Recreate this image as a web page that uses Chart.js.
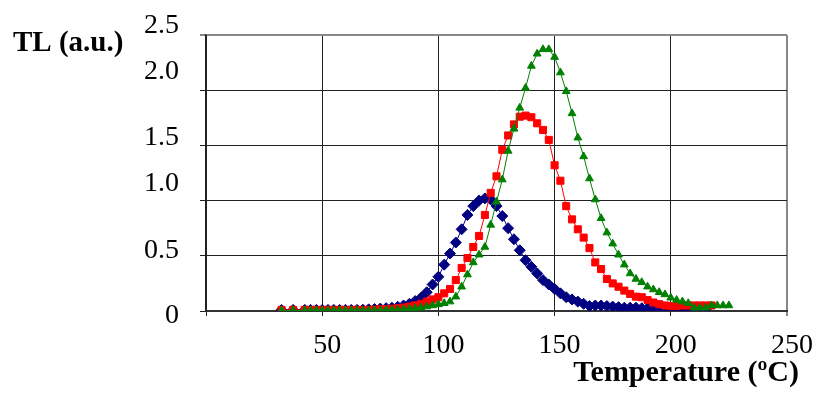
<!DOCTYPE html>
<html>
<head>
<meta charset="utf-8">
<script src="https://cdn.jsdelivr.net/npm/chart.js@4"></script>
<style>
html,body{margin:0;padding:0;background:#fff;}
#wrap{width:821px;height:402px;}
</style>
</head>
<body>
<div id="wrap"><canvas id="tlChart" width="821" height="402"></canvas></div>
<script>
// temperatures (ºC) shared by the three glow curves
const temps = [
32.5, 37.5, 42.5, 45, 47.5, 50, 52.5, 55, 57.5, 60,
62.5, 65, 67.5, 70, 72.5, 75, 77.5, 80, 82.5, 85,
87.5, 90, 92.5, 95, 97.5, 100, 102.5, 105, 107.5, 110,
112.5, 115, 117.5, 120, 122.5, 125, 127.5, 130, 132.5, 135,
137.5, 140, 142.5, 145, 147.5, 150, 152.5, 155, 157.5, 160,
162.5, 165, 167.5, 170, 172.5, 175, 177.5, 180, 182.5, 185,
187.5, 190, 192.5, 195, 197.5, 200, 202.5, 205, 207.5, 210,
212.5, 215, 217.5, 220, 222.5, 225
];

const blueTL = [
0.01, 0.01, 0.01, 0.01, 0.01, 0.01, 0.01, 0.01, 0.01, 0.01,
0.01, 0.01, 0.012, 0.015, 0.018, 0.022, 0.026, 0.03, 0.038, 0.05,
0.065, 0.09, 0.12, 0.17, 0.24, 0.31, 0.42, 0.52, 0.62, 0.74,
0.87, 0.95, 1.00, 1.02, 1.01, 0.95, 0.86, 0.75, 0.65, 0.55,
0.46, 0.40, 0.34, 0.28, 0.24, 0.20, 0.16, 0.125, 0.105, 0.085,
0.065, 0.045, 0.05, 0.05, 0.045, 0.04, 0.035, 0.03, 0.03, 0.03,
0.025, 0.025, 0.025, 0.02, 0.02, 0.02, 0.02, 0.015, 0.015, 0.015,
0.015, 0.015, null, null, null, null
];

const redTL = [
0.01, 0.01, 0.01, 0.01, 0.01, 0.01, 0.01, 0.01, 0.01, 0.01,
0.01, 0.01, 0.01, 0.01, 0.012, 0.015, 0.018, 0.02, 0.025, 0.03,
0.04, 0.05, 0.065, 0.085, 0.105, 0.125, 0.16, 0.20, 0.28, 0.39,
0.48, 0.58, 0.68, 0.87, 1.07, 1.22, 1.46, 1.59, 1.69, 1.76,
1.77, 1.755, 1.70, 1.64, 1.55, 1.32, 1.18, 0.95, 0.83, 0.74,
0.665, 0.57, 0.44, 0.38, 0.29, 0.25, 0.22, 0.185, 0.155, 0.13,
0.125, 0.10, 0.077, 0.062, 0.05, 0.045, 0.045, 0.05, 0.05, 0.05,
0.05, 0.05, 0.05, null, null, null
];

const greenTL = [
0.005, 0.005, 0.005, 0.005, 0.005, 0.005, 0.005, 0.005, 0.005, 0.005,
0.005, 0.005, 0.005, 0.005, 0.005, 0.005, 0.008, 0.01, 0.012, 0.015,
0.02, 0.025, 0.03, 0.04, 0.05, 0.06, 0.07, 0.085, 0.13, 0.22,
0.33, 0.44, 0.51, 0.58, 0.78, 0.99, 1.19, 1.45, 1.65, 1.84,
2.02, 2.22, 2.33, 2.37, 2.37, 2.30, 2.16, 1.99, 1.79, 1.57,
1.40, 1.20, 1.01, 0.84, 0.71, 0.61, 0.51, 0.42, 0.34, 0.29,
0.26, 0.22, 0.195, 0.17, 0.15, 0.12, 0.10, 0.085, 0.07, 0.03,
0.03, 0.03, 0.05, 0.05, 0.05, 0.05
];

const xTicks = [0, 50, 100, 150, 200, 250];
const yTicks = [0, 0.5, 1.0, 1.5, 2.0, 2.5];
const yTickLabels = ['0', '0.5', '1.0', '1.5', '2.0', '2.5'];
// vertical nudge of each y label, as in the original
const yLabelShift = [4, -6, -18, -9, -20, -10];

const pts = arr => temps.map((t, i) => ({x: t, y: arr[i]}));

const textPlugin = {
  id: 'texts',
  afterDraw(chart) {
    const ctx = chart.ctx;
    const ys = chart.scales.y;
    ctx.save();
    ctx.fillStyle = '#000';
    ctx.font = '28px "Liberation Serif"';
    ctx.textAlign = 'right';
    ctx.textBaseline = 'middle';
    yTicks.forEach((v, i) => {
      ctx.fillText(yTickLabels[i], 179, ys.getPixelForValue(v) + yLabelShift[i] + 1);
    });
    ctx.font = 'bold 29px "Liberation Serif"';
    ctx.textAlign = 'left';
    ctx.fillText('TL (a.u.)', 13, 44);
    ctx.font = 'bold 30px "Liberation Serif"';
    ctx.textAlign = 'right';
    ctx.fillText('Temperature (ºC)', 799, 373);
    ctx.restore();
  }
};

new Chart(document.getElementById('tlChart'), {
  type: 'line',
  data: {
    datasets: [
      {
        data: pts(greenTL),
        borderColor: '#008000',
        backgroundColor: '#008000',
        pointStyle: 'triangle',
        pointRadius: 4.5,
        borderWidth: 1,
        order: 0
      },
      {
        data: pts(redTL),
        borderColor: '#ff0000',
        backgroundColor: '#ff0000',
        pointStyle: 'rect',
        pointRadius: 5,
        borderWidth: 1,
        order: 1
      },
      {
        data: pts(blueTL),
        borderColor: '#000080',
        backgroundColor: '#000080',
        pointStyle: 'rectRot',
        pointRadius: 5.5,
        borderWidth: 1,
        order: 2
      }
    ]
  },
  options: {
    responsive: false,
    animation: false,
    layout: {padding: {top: 35, right: 30, left: 0, bottom: 0}},
    plugins: {
      legend: {display: false},
      tooltip: {enabled: false}
    },
    elements: {
      line: {tension: 0, fill: false},
      point: {borderWidth: 1}
    },
    scales: {
      x: {
        type: 'linear',
        min: 0,
        max: 250,
        afterBuildTicks: s => { s.ticks = xTicks.map(v => ({value: v})); },
        afterFit: s => { s.height = 91; },
        grid: {
          color: c => c.tick && c.tick.value === 250 ? '#888' : '#222',
          lineWidth: c => c.tick && c.tick.value === 250 ? 2 : 1,
          tickLength: 5
        },
        border: {color: '#333', width: 2},
        ticks: {
          callback: v => v === 0 ? '' : v,
          color: '#000',
          font: {family: 'Liberation Serif', size: 28},
          padding: 13,
          labelOffset: 5,
          maxRotation: 0
        }
      },
      y: {
        min: 0,
        max: 2.5,
        afterBuildTicks: s => { s.ticks = yTicks.map(v => ({value: v})); },
        afterFit: s => { s.width = 206; },
        grid: {
          color: c => c.tick && c.tick.value === 2.5 ? '#888' : '#222',
          lineWidth: c => c.tick && c.tick.value === 2.5 ? 2 : 1,
          tickLength: 6
        },
        border: {color: '#222', width: 1.5},
        ticks: {display: false}
      }
    }
  },
  plugins: [textPlugin]
});
</script>
</body>
</html>
